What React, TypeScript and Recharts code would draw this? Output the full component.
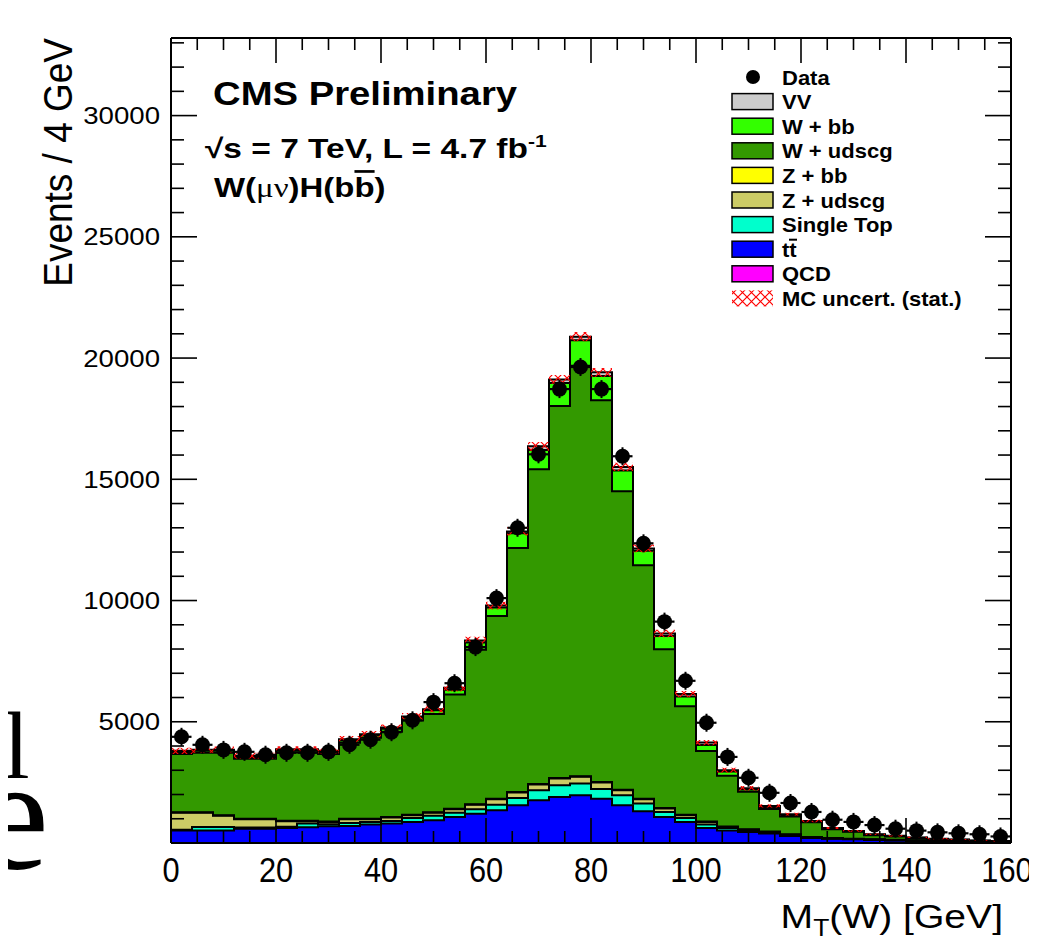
import React from "react";
import { Area, ComposedChart, Scatter, XAxis, YAxis } from "recharts";

// lower edge of each 4 GeV bin in M_T(W)
const binLow = [
  0, 4, 8, 12, 16, 20, 24, 28, 32, 36, 40, 44, 48, 52, 56, 60, 64, 68, 72, 76,
  80, 84, 88, 92, 96, 100, 104, 108, 112, 116, 120, 124, 128, 132, 136, 140, 144, 148, 152, 156,
];
const xEnd = 160;

const dataEvents = [
  4380, 4050, 3840, 3760, 3640, 3720, 3720, 3760, 4050, 4260, 4570, 5060, 5810, 6590, 8080, 10100,
  13000, 16030, 18720, 19630, 18720, 15950, 12360, 9130, 6690, 4960, 3550, 2690, 2070, 1650, 1280,
  960, 870, 740, 590, 510, 440, 400, 360, 270,
];

const qcd = [
  0, 0, 0, 0, 0, 0, 0, 0, 0, 0, 0, 0, 0, 0, 0, 0, 0, 0, 0, 0, 0, 0, 0, 0, 0, 0, 0, 0, 0, 0, 0, 0,
  0, 0, 0, 0, 0, 0, 0, 0,
];
const ttbar = [
  520, 520, 520, 590, 590, 620, 650, 690, 700, 760, 800, 870, 940, 1070, 1210, 1350, 1560, 1760,
  1900, 1970, 1830, 1560, 1310, 1070, 870, 620, 520, 450, 390, 290, 210, 180, 150, 120, 100, 80, 60,
  50, 40, 30,
];
const singleTop = [
  30, 140, 140, 50, 50, 50, 150, 80, 130, 110, 110, 160, 180, 180, 180, 230, 300, 420, 480, 480,
  400, 410, 320, 210, 160, 140, 100, 50, 30, 30, 20, 10, 10, 10, 10, 10, 10, 10, 10, 10,
];
const zUdscg = [
  700, 590, 460, 340, 340, 230, 100, 100, 150, 110, 140, 110, 130, 140, 190, 220, 220, 230, 280,
  280, 270, 210, 170, 140, 110, 110, 40, 50, 30, 20, 10, 10, 10, 10, 10, 10, 10, 10, 10, 10,
];
const zBb = [
  20, 20, 20, 20, 20, 20, 20, 20, 20, 20, 20, 20, 20, 20, 20, 20, 20, 20, 20, 20, 20, 20, 20, 20,
  20, 20, 20, 20, 20, 20, 10, 10, 10, 10, 10, 10, 10, 10, 10, 10,
];
const wUdscg = [
  2400, 2450, 2580, 2470, 2470, 2820, 2820, 2780, 3130, 3340, 3520, 3890, 4050, 4710, 6370, 7540,
  10070, 12980, 15340, 16930, 15740, 12310, 9630, 6550, 4480, 2900, 2090, 1540, 930, 730, 610, 360,
  280, 170, 140, 100, 70, 40, 15, 5,
];
const wBb = [
  80, 80, 80, 80, 80, 80, 80, 80, 100, 100, 120, 120, 150, 200, 300, 350, 600, 800, 950, 1050,
  1000, 850, 600, 550, 400, 250, 180, 100, 80, 50, 30, 30, 20, 20, 20, 10, 10, 10, 5, 5,
];
const vv = [
  50, 50, 50, 50, 50, 50, 50, 50, 50, 50, 50, 50, 50, 80, 80, 80, 80, 150, 150, 150, 150, 150, 100,
  100, 100, 100, 50, 50, 50, 50, 20, 20, 20, 20, 10, 10, 10, 10, 10, 10,
];
const mcStat = [
  130, 130, 130, 120, 120, 120, 120, 120, 130, 130, 130, 140, 140, 150, 160, 160, 170, 180, 180,
  190, 180, 170, 160, 150, 130, 110, 100, 90, 70, 60, 50, 45, 40, 35, 30, 25, 22, 20, 18, 15,
];

const xTicks = [
  0, 5, 10, 15, 20, 25, 30, 35, 40, 45, 50, 55, 60, 65, 70, 75, 80, 85, 90, 95, 100, 105, 110, 115,
  120, 125, 130, 135, 140, 145, 150, 155, 160,
];
const yTicks = Array.from({ length: 34 }, (_, i) => i * 1000);
const yMax = 33200;

// stacking order, bottom first
const stack = [
  { key: "qcd", values: qcd, color: "#ff00ff" },
  { key: "tt", values: ttbar, color: "#0000ff" },
  { key: "stop", values: singleTop, color: "#00ffcc" },
  { key: "zud", values: zUdscg, color: "#cccc66" },
  { key: "zbb", values: zBb, color: "#ffff00" },
  { key: "wud", values: wUdscg, color: "#339900" },
  { key: "wbb", values: wBb, color: "#33ff00" },
  { key: "vv", values: vv, color: "#cccccc" },
];

const legendRows = [
  { label: "VV", color: "#cccccc" },
  { label: "W + bb", color: "#33ff00" },
  { label: "W + udscg", color: "#339900" },
  { label: "Z + bb", color: "#ffff00" },
  { label: "Z + udscg", color: "#cccc66" },
  { label: "Single Top", color: "#00ffcc" },
  { label: "tt", color: "#0000ff" },
  { label: "QCD", color: "#ff00ff" },
];

const rows = [...binLow, xEnd].map((x, i) => {
  const k = Math.min(i, binLow.length - 1);
  const row: Record<string, any> = { x };
  let total = 0;
  stack.forEach((s) => {
    row[s.key] = s.values[k];
    total += s.values[k];
  });
  row.band = [total - mcStat[k], total + mcStat[k]];
  return row;
});

const points = binLow.map((x, i) => ({ x: x + 2, data: dataEvents[i] }));

const font = "'Liberation Sans', Arial, Helvetica, sans-serif";
const serif = "'Liberation Serif', 'Times New Roman', serif";
const sx = 1.15;

const BottomTick = ({ x, y, payload }: any) => {
  const v = payload.value;
  const major = v % 20 === 0;
  return (
    <g>
      <line x1={x} x2={x} y1={y} y2={y - (major ? 25 : 12)} stroke="#000" strokeWidth={1.6} />
      {major && (
        <text
          transform={`translate(${v === xEnd ? x - 4 : x},${y + 39}) scale(0.88,1)`}
          textAnchor="middle"
          fontSize={35}
          fontFamily={font}
          fill="#000"
        >
          {v}
        </text>
      )}
    </g>
  );
};

const TopTick = ({ x, y, payload }: any) => {
  const major = payload.value % 20 === 0;
  return <line x1={x} x2={x} y1={y} y2={y + (major ? 25 : 12)} stroke="#000" strokeWidth={1.6} />;
};

const LeftTick = ({ x, y, payload }: any) => {
  const v = payload.value;
  const major = v % 5000 === 0;
  return (
    <g>
      <line x1={x} x2={x + (major ? 26 : 13)} y1={y} y2={y} stroke="#000" strokeWidth={1.6} />
      {major && v > 0 && (
        <text
          transform={`translate(${x - 11},${y + 8.5}) scale(${sx},1)`}
          textAnchor="end"
          fontSize={24}
          fontFamily={font}
          fill="#000"
        >
          {v}
        </text>
      )}
    </g>
  );
};

const RightTick = ({ x, y, payload }: any) => {
  const major = payload.value % 5000 === 0;
  return <line x1={x} x2={x - (major ? 26 : 13)} y1={y} y2={y} stroke="#000" strokeWidth={1.6} />;
};

const DataMarker = ({ cx, cy }: any) => (
  <g>
    <line x1={cx - 10} x2={cx + 10} y1={cy} y2={cy} stroke="#000" strokeWidth={2.2} />
    <line x1={cx} x2={cx} y1={cy - 9} y2={cy + 9} stroke="#000" strokeWidth={2} />
    <circle cx={cx} cy={cy} r={7.5} fill="#000" />
  </g>
);

const legendY = (i: number) => 77 + i * 24.6;

export default function App() {
  return (
    <div style={{ margin: -8, width: 1037, height: 946, background: "#fff" }}>
      <ComposedChart
        width={1037}
        height={946}
        data={rows}
        margin={{ top: 37, right: 25, bottom: 0, left: 0 }}
      >
        <defs>
          <pattern id="mcHatch" width="9" height="9" patternUnits="userSpaceOnUse">
            <path d="M0,0 L9,9 M9,0 L0,9" stroke="#ff0000" strokeWidth={1.2} />
          </pattern>
        </defs>
        <XAxis
          xAxisId="b"
          dataKey="x"
          type="number"
          domain={[0, xEnd]}
          allowDataOverflow
          ticks={xTicks}
          interval={0}
          tickSize={0}
          tickMargin={0}
          tickLine={false}
          axisLine={{ stroke: "#000", strokeWidth: 2 }}
          height={103}
          tick={(p: any) => <BottomTick {...p} />}
        />
        <XAxis
          xAxisId="t"
          orientation="top"
          dataKey="x"
          type="number"
          domain={[0, xEnd]}
          allowDataOverflow
          ticks={xTicks}
          interval={0}
          tickSize={0}
          tickMargin={0}
          tickLine={false}
          axisLine={{ stroke: "#000", strokeWidth: 2 }}
          height={1}
          tick={(p: any) => <TopTick {...p} />}
        />
        <YAxis
          yAxisId="l"
          type="number"
          domain={[0, yMax]}
          allowDataOverflow
          ticks={yTicks}
          interval={0}
          tickSize={0}
          tickMargin={0}
          tickLine={false}
          axisLine={{ stroke: "#000", strokeWidth: 2 }}
          width={171}
          tick={(p: any) => <LeftTick {...p} />}
        />
        <YAxis
          yAxisId="r"
          orientation="right"
          type="number"
          domain={[0, yMax]}
          allowDataOverflow
          ticks={yTicks}
          interval={0}
          tickSize={0}
          tickMargin={0}
          tickLine={false}
          axisLine={{ stroke: "#000", strokeWidth: 2 }}
          width={1}
          tick={(p: any) => <RightTick {...p} />}
        />

        {stack.map((s) => (
          <Area
            key={s.key}
            xAxisId="b"
            yAxisId="l"
            dataKey={s.key}
            stackId="fill"
            type="stepAfter"
            fill={s.color}
            fillOpacity={1}
            stroke="none"
            dot={false}
            activeDot={false}
            isAnimationActive={false}
          />
        ))}
        {stack.map((s) => (
          <Area
            key={s.key + "-line"}
            xAxisId="b"
            yAxisId="l"
            dataKey={s.key}
            stackId="line"
            type="stepAfter"
            fill="none"
            stroke="#000"
            strokeWidth={2}
            dot={false}
            activeDot={false}
            isAnimationActive={false}
          />
        ))}
        <Area
          xAxisId="b"
          yAxisId="l"
          dataKey="band"
          type="stepAfter"
          fill="url(#mcHatch)"
          fillOpacity={1}
          stroke="none"
          dot={false}
          activeDot={false}
          isAnimationActive={false}
        />
        <Scatter
          xAxisId="b"
          yAxisId="l"
          data={points}
          dataKey="data"
          shape={(p: any) => <DataMarker {...p} />}
          isAnimationActive={false}
        />

        <g fontFamily={font} fill="#000">
          {/* pieces of the slide text behind the plot, cut at the left edge */}
          <text x={3} y={778} fontSize={96} fontFamily={serif}>
            l
          </text>
          <text x={-22} y={868} fontSize={160} fontFamily={serif}>
            e
          </text>

          <text transform={`translate(213,105) scale(1.16,1)`} fontSize={33} fontWeight="bold">
            CMS Preliminary
          </text>
          <text transform={`translate(205,158) scale(1.24,1)`} fontSize={27} fontWeight="bold">
            √s = 7 TeV, L = 4.7 fb
            <tspan dy={-11} fontSize={17}>
              -1
            </tspan>
          </text>
          <text transform={`translate(214,197) scale(1.22,1)`} fontSize={27} fontWeight="bold">
            W(
            <tspan fontWeight="normal" fontFamily={serif}>
              μν
            </tspan>
            )H(b<tspan style={{ textDecoration: "overline" }}>b</tspan>)
          </text>

          <text transform={`translate(72,38) scale(1.1,1) rotate(-90)`} fontSize={37} textAnchor="end">
            Events / 4 GeV
          </text>
          <text transform={`translate(1003,928) scale(1.15,1)`} fontSize={34} textAnchor="end">
            M<tspan dy={8} fontSize={23}>T</tspan>
            <tspan dy={-8}>(W) [GeV]</tspan>
          </text>

          {/* legend */}
          <circle cx={753} cy={legendY(0)} r={7} fill="#000" />
          <text transform={`translate(782,${legendY(0) + 7.5}) scale(1.1,1)`} fontSize={20} fontWeight="bold">
            Data
          </text>
          {legendRows.map((r, i) => (
            <g key={r.label}>
              <rect
                x={732}
                y={legendY(i + 1) - 8}
                width={41}
                height={16}
                fill={r.color}
                stroke="#000"
                strokeWidth={1.5}
              />
              <text
                transform={`translate(782,${legendY(i + 1) + 7.5}) scale(1.1,1)`}
                fontSize={20}
                fontWeight="bold"
              >
                {r.label}
              </text>
              {r.label === "tt" && (
                <line
                  x1={789}
                  x2={797}
                  y1={legendY(i + 1) - 9.5}
                  y2={legendY(i + 1) - 9.5}
                  stroke="#000"
                  strokeWidth={2}
                />
              )}
            </g>
          ))}
          <rect x={732} y={legendY(9) - 8} width={41} height={16} fill="url(#mcHatch)" />
          <text transform={`translate(782,${legendY(9) + 7.5}) scale(1.1,1)`} fontSize={20} fontWeight="bold">
            MC uncert. (stat.)
          </text>
        </g>
      </ComposedChart>
    </div>
  );
}
